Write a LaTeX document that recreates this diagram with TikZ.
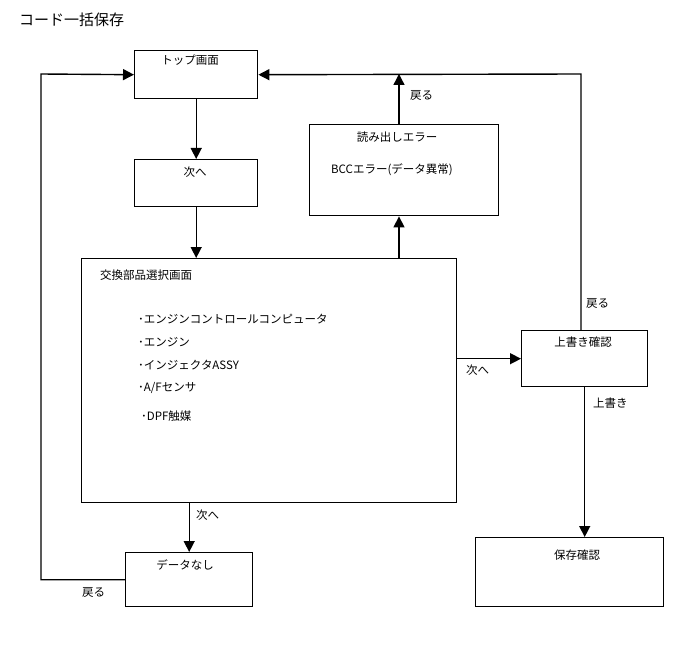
\documentclass[tikz,border=0pt]{standalone}
\usepackage{fontspec}
\setmainfont{Noto Sans CJK JP}
\usetikzlibrary{arrows.meta}
\begin{document}
\begin{tikzpicture}[x=1pt,y=-1pt,
  box/.style={draw,line width=1.4pt,anchor=north west,inner sep=0pt},
  txt/.style={inner sep=0pt,font=\fontsize{11.5}{14}\selectfont},
  lbl/.style={txt,anchor=west},
  conn/.style={line width=1.4pt,-{Triangle[length=11pt,width=11pt]}},
  plain/.style={line width=1.4pt}]
\useasboundingbox (0,0) rectangle (688,658);
\node[txt,anchor=west,font=\fontsize{15}{17}\selectfont] (title) at (19,20) {コード一括保存};
% boxes
\node[box,minimum width=123pt,minimum height=48pt] (top) at (134,50) {};
\node[box,minimum width=123pt,minimum height=47pt] (next) at (134,159) {};
\node[box,minimum width=375pt,minimum height=244pt] (sel) at (81,258) {};
\node[box,minimum width=189pt,minimum height=91pt] (err) at (309,124) {};
\node[box,minimum width=126pt,minimum height=56pt] (ovr) at (521,330) {};
\node[box,minimum width=188pt,minimum height=69pt] (save) at (475,537) {};
\node[box,minimum width=127pt,minimum height=54pt] (nodata) at (125,552) {};
% box texts
\node[txt] (ttop) at (190,60) {トップ画面};
\node[txt] (tnext) at (195,172) {次へ};
\node[txt] (terr) at (397,137) {読み出しエラー};
\node[txt] (tbcc) at (392,170) {BCCエラー(データ異常)};
\node[lbl] (tsel) at (100,275) {交換部品選択画面};
\node[lbl] (i1) at (138,319) {･エンジンコントロールコンピュータ};
\node[lbl] (i2) at (138,342) {･エンジン};
\node[lbl] (i3) at (138,365) {･インジェクタASSY};
\node[lbl] (i4) at (138,388) {･A/Fセンサ};
\node[lbl] (i5) at (141,416) {･DPF触媒};
\node[txt] (tovr) at (583,342) {上書き確認};
\node[txt] (tsave) at (577,555) {保存確認};
\node[txt] (tnodata) at (185,565) {データなし};
% coordinates
\coordinate (ex) at (399,0);
\coordinate (ry) at (0,74);
\coordinate (rx) at (581,0);
\coordinate (lx) at (41,0);
% connectors
\draw[conn] (top.south) -- (next.north);
\draw[conn] (next.south) -- (next.south |- sel.north);
\draw[conn] (ex |- sel.north) -- (ex |- err.south);
\draw[conn] (ex |- err.north) -- (ex |- ry);
\draw[conn] (rx |- ovr.north) -- (rx |- ry) -- (top.east);
\draw[conn] (nodata.west) -- (lx |- nodata.west) -- (lx |- ry) -- (top.west);
\draw[conn] (sel.east |- ovr.west) -- (ovr.west);
\draw[conn] (ovr.south) -- (ovr.south |- save.north);
\draw[conn] (nodata.north |- sel.south) -- (nodata.north);
% labels
\node[lbl] (l1) at (410,95) {戻る};
\node[lbl] (l2) at (586,303) {戻る};
\node[lbl] (l3) at (466,370) {次へ};
\node[lbl] (l4) at (593,403) {上書き};
\node[lbl] (l5) at (196,515) {次へ};
\node[lbl] (l6) at (82,592) {戻る};
\end{tikzpicture}
\end{document}
